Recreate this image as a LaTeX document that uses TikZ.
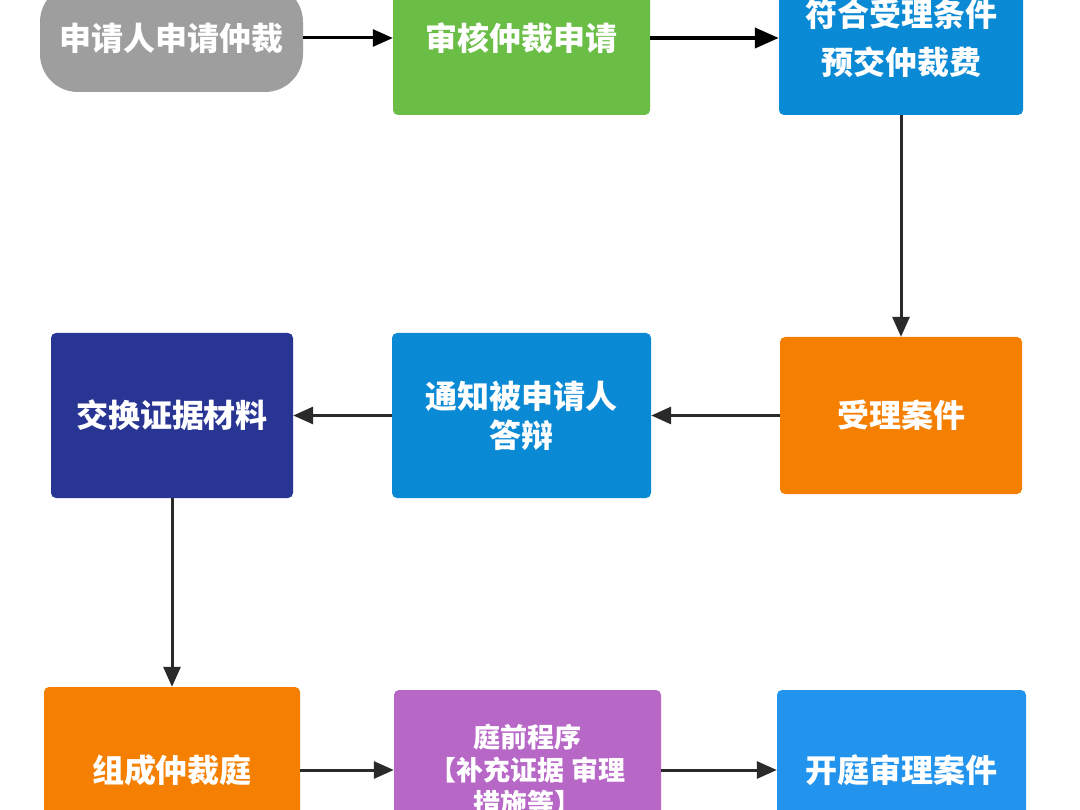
\documentclass[tikz,border=0pt]{standalone}
\usepackage{fontspec}
\newfontfamily\cjk{Noto Sans CJK SC}
\usetikzlibrary{arrows.meta}
\definecolor{cgray}{HTML}{9E9E9E}
\definecolor{cgreen}{HTML}{6ABD45}
\definecolor{cblue}{HTML}{0A89D4}
\definecolor{corange}{HTML}{F57F00}
\definecolor{cnavy}{HTML}{283593}
\definecolor{cpurple}{HTML}{B767C6}
\definecolor{clblue}{HTML}{2394ED}
\definecolor{linec}{HTML}{2A2A2A}
\begin{document}
\begin{tikzpicture}[x=1pt,y=-1pt,
  box/.style={rectangle, rounded corners=5pt, inner sep=0pt, text=white, align=center,
    font=\cjk\bfseries\fontsize{32}{48}\selectfont},
  arr/.style={draw=linec, line width=3pt, -{Triangle[length=20pt,width=17pt]}},
  bigarr/.style={draw=black, line width=4pt, -{Triangle[length=24pt,width=20pt]}},
]
\useasboundingbox (0,0) rectangle (1080,810);
\clip (0,0) rectangle (1080,810);
\fill[white] (0,0) rectangle (1080,810);

\node[box, fill=cgray, rounded corners=38pt, minimum width=263pt, minimum height=108pt] (a) at (171.5,38) {申请人申请仲裁};
\node[box, fill=cgreen, minimum width=257pt, minimum height=154pt] (b) at (521.5,38) {审核仲裁申请};
\node[box, fill=cblue, minimum width=244pt, minimum height=154pt] (c) at (901,38) {符合受理条件\\预交仲裁费};
\node[box, fill=corange, minimum width=242pt, minimum height=157pt] (d) at (901,415.5) {受理案件};
\node[box, fill=cblue, minimum width=259pt, minimum height=165pt, font=\cjk\bfseries\fontsize{32}{39}\selectfont] (e) at (521.5,415.5) {通知被申请人\\答辩};
\node[box, fill=cnavy, minimum width=242pt, minimum height=165pt] (f) at (172,415.5) {交换证据材料};
\node[box, fill=corange, minimum width=256pt, minimum height=166pt] (g) at (172,770) {组成仲裁庭};
\node[box, fill=cpurple, minimum width=267pt, minimum height=160pt, font=\cjk\bfseries\fontsize{27}{33}\selectfont] (h) at (527.5,770) {庭前程序\\【补充证据 审理\\措施等】};
\node[box, fill=clblue, minimum width=249pt, minimum height=160pt] (i) at (901.5,770) {开庭审理案件};

\draw[arr, draw=black] (a.east) -- (b.west);
\draw[bigarr] (b.east) -- (c.west);
\draw[arr] (c.south) -- (d.north);
\draw[arr] (d.west) -- (e.east);
\draw[arr] (e.west) -- (f.east);
\draw[arr] (f.south) -- (g.north);
\draw[arr] (g.east) -- (h.west);
\draw[arr] (h.east) -- (i.west);
\end{tikzpicture}
\end{document}
